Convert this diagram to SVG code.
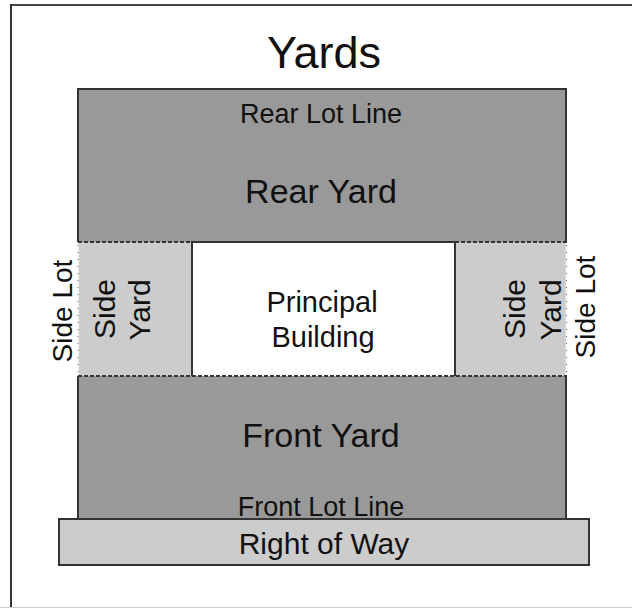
<svg xmlns="http://www.w3.org/2000/svg" width="632" height="609" viewBox="0 0 632 609">
<style>
text{font-family:"Liberation Sans",Arial,sans-serif;fill:#111;text-anchor:middle}
.dark{fill:#999999}
.light{fill:#cccccc}
.edge{stroke:#333;stroke-width:2;fill:none}
.dash{stroke:#333;stroke-width:2;stroke-dasharray:4,2;fill:none}
.dot{stroke:#666;stroke-width:1;stroke-dasharray:1,6;fill:none}
</style>
<rect x="0" y="0" width="632" height="609" fill="#fff"/>
<g id="frame">
<line x1="11" y1="5" x2="632" y2="5" stroke="#444" stroke-width="2"/>
<line x1="11" y1="4" x2="11" y2="608" stroke="#333" stroke-width="2"/>
<line x1="0" y1="607.5" x2="632" y2="607.5" stroke="#ccc" stroke-width="1"/>
<text x="324" y="68" font-size="45">Yards</text>
</g>
<g id="rear-yard">
<rect class="dark" x="78" y="89" width="488" height="153"/>
<path class="edge" d="M78,242 V89 H566 V242"/>
<text x="321" y="123" font-size="27">Rear Lot Line</text>
<text x="321" y="203" font-size="34">Rear Yard</text>
</g>
<g id="front-yard">
<rect class="dark" x="78" y="376" width="488" height="143"/>
<path class="edge" d="M78,376 V519 M566,376 V519"/>
<text x="321" y="447" font-size="34">Front Yard</text>
<text x="321" y="516" font-size="27">Front Lot Line</text>
</g>
<g id="side-yard-left">
<rect class="light" x="78" y="242" width="114" height="134"/>
<text transform="translate(115,309) rotate(-90)" font-size="30">Side</text>
<text transform="translate(150,310) rotate(-90)" font-size="30">Yard</text>
</g>
<g id="side-yard-right">
<rect class="light" x="455" y="242" width="111" height="134"/>
<text transform="translate(525,309) rotate(-90)" font-size="30">Side</text>
<text transform="translate(561,310) rotate(-90)" font-size="30">Yard</text>
</g>
<g id="principal-building">
<rect x="192" y="242" width="263" height="134" fill="#fff"/>
<path class="edge" d="M192,376 V242 H455 V376"/>
<text x="322" y="312" font-size="29">Principal</text>
<text x="323" y="347" font-size="29">Building</text>
</g>
<g id="side-lot-left">
<text transform="translate(72,311) rotate(-90)" font-size="28">Side Lot</text>
</g>
<g id="side-lot-right">
<text transform="translate(595,307) rotate(-90)" font-size="28">Side Lot</text>
</g>
<g id="right-of-way">
<rect class="light" x="59" y="519" width="530" height="46" stroke="#333" stroke-width="2"/>
<text x="324" y="554" font-size="30">Right of Way</text>
</g>
<g id="connectors">
<line class="dash" x1="78" y1="242" x2="192" y2="242"/>
<line class="dash" x1="455" y1="242" x2="567" y2="242"/>
<line class="dash" x1="78" y1="376" x2="567" y2="376"/>
<line x1="78" y1="243" x2="78" y2="375" stroke="#fff" stroke-width="1.5"/>
<line class="dot" x1="78" y1="245" x2="78" y2="375"/>
<line x1="566.5" y1="243" x2="566.5" y2="375" stroke="#fff" stroke-width="1.5"/>
<line class="dot" x1="566.5" y1="245" x2="566.5" y2="375"/>
</g>
</svg>
